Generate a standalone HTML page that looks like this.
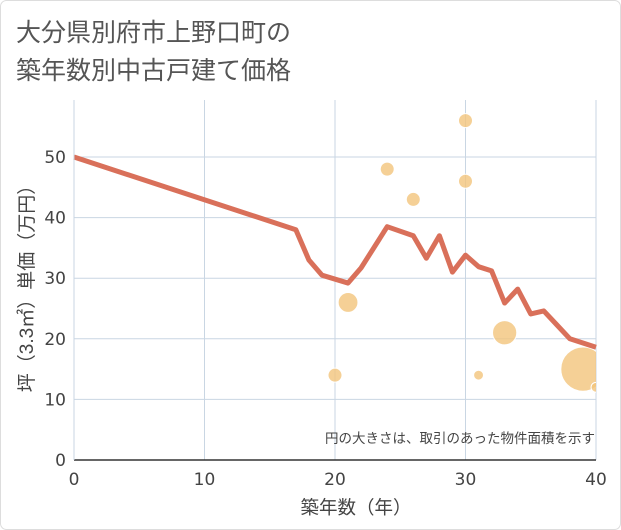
<!DOCTYPE html>
<html><head><meta charset="utf-8"><style>
body{margin:0;background:#fff;}
svg{display:block;font-family:"DejaVu Sans","Noto Sans CJK JP",sans-serif;}
</style></head><body>
<svg width="621" height="530" viewBox="0 0 621 530">
<defs><clipPath id="pc"><rect x="74" y="95" width="522" height="366"/></clipPath></defs>
<rect x="0.5" y="0.5" width="620" height="529" rx="6" fill="#fff" stroke="#ddd"/>
<text x="16" y="41" font-size="25" fill="#555" font-family="Liberation Sans, Noto Sans CJK JP, sans-serif">大分県別府市上野口町の</text>
<text x="16" y="79" font-size="25" fill="#555" font-family="Liberation Sans, Noto Sans CJK JP, sans-serif">築年数別中古戸建て価格</text>
<g id="grid"></g>
<g id="bubbles" clip-path="url(#pc)"></g>
<path id="line" fill="none" stroke="#d9705a" stroke-width="5" stroke-linejoin="round"/>
<g id="axes"></g>
<text x="595" y="443" font-size="13.5" fill="#444" text-anchor="end" font-family="Liberation Sans, Noto Sans CJK JP, sans-serif">円の大きさは、取引のあった物件面積を示す</text>
<text x="356" y="514" font-size="18.5" fill="#444" text-anchor="middle" font-family="Liberation Sans, Noto Sans CJK JP, sans-serif">築年数（年）</text>
<text transform="translate(33,284) rotate(-90)" font-size="19" fill="#444" text-anchor="middle" font-family="Liberation Sans, Noto Sans CJK JP, sans-serif">坪（3.3㎡）単価（万円）</text>
</svg>
<script>
const lineAges=[0,17,18,19,21,22,24,26,27,28,29,30,31,32,33,34,35,36,37,38,40];
const linePrices=[50,38,33,30.5,29.2,31.7,38.5,37,33.3,37,31,33.8,31.9,31.2,25.9,28.2,24.1,24.6,22.3,20,18.6];
const bubbleAges=[20,21,24,26,30,30,31,33,39,40];
const bubblePrices=[14,26,48,43,56,46,14,21,15,12];
const bubbleSizes=[1,2,1,1,1,1,0.5,3,10,0.5];
const xTicks=[0,10,20,30,40];
const yTicks=[0,10,20,30,40,50];
const X0=74,X1=596,Y0=460,YT=100;
const sx=v=>X0+v*(X1-X0)/40;
const sy=v=>Y0-v*(Y0-157)/50;
const NS="http://www.w3.org/2000/svg";
const grid=document.getElementById('grid'),axes=document.getElementById('axes');
function mk(tag,attrs,parent){const e=document.createElementNS(NS,tag);for(const k in attrs)e.setAttribute(k,attrs[k]);parent.appendChild(e);return e;}
xTicks.forEach(t=>{
 const l=mk('line',{x1:sx(t),x2:sx(t),y1:YT,y2:Y0,stroke:'#c9d6e3','stroke-width':1},grid);
 
 
 const tx=mk('text',{x:sx(t),y:Y0+25,'font-size':17,fill:'#444','text-anchor':'middle'},axes);
 tx.textContent=t;
 
 
});
yTicks.forEach(t=>{
 const l=mk('line',{x1:X0,x2:X1,y1:sy(t),y2:sy(t),stroke:'#c9d6e3','stroke-width':1},grid);
 
 
 const tx=mk('text',{x:X0-8,y:sy(t)+6,'font-size':17,fill:'#444','text-anchor':'end'},axes);
 tx.textContent=t;
 
 
});
const ax=mk('line',{x1:X0,x2:X1,y1:Y0,y2:Y0,stroke:'#333','stroke-width':1.5},axes);


const ay=mk('line',{x1:X0,x2:X0,y1:YT,y2:Y0,stroke:'#c9d6e3','stroke-width':1},axes);


const bg=document.getElementById('bubbles');
bubbleAges.forEach((a,i)=>{
 const c=mk('circle',{cx:sx(a),cy:sy(bubblePrices[i]),r:7*Math.sqrt(bubbleSizes[i]),fill:'#f3c47c','fill-opacity':0.8,stroke:'#fff','stroke-width':1},bg);
 
 
});
document.getElementById('line').setAttribute('d',lineAges.map((a,i)=>(i?'L':'M')+sx(a)+','+sy(linePrices[i])).join(''));
</script>
</body></html>
